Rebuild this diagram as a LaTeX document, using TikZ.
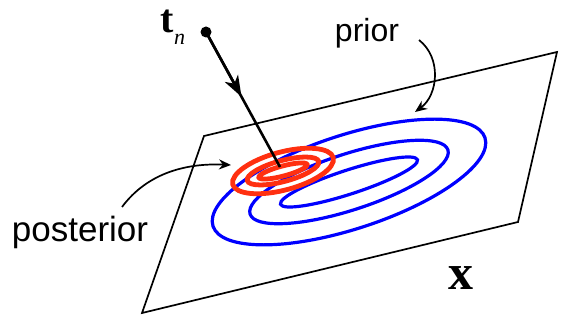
\documentclass[tikz,border=0pt]{standalone}
\usepackage{fontspec}
\setmainfont{Liberation Sans}
\newfontfamily\serifsym{Liberation Serif}
\usetikzlibrary{arrows.meta,calc}
\definecolor{postred}{RGB}{255,48,16}

\begin{document}
\begin{tikzpicture}[
    x=1pt, y=-1pt,
    plane/.style={draw, line width=1.7pt, line join=miter},
    prior/.style={draw=blue, line width=3.2pt},
    post/.style={draw=postred, line width=4.8pt},
    lbl/.style={font=\fontsize{32}{32}\selectfont, inner sep=0pt},
    arr/.style={-{Stealth[length=12pt, width=10pt]}, line width=1.7pt}
  ]
    \useasboundingbox (0,0) rectangle (565,320);
    % plane corners
    \coordinate (pA) at (204,136);
    \coordinate (pB) at (557,52);
    \coordinate (pC) at (518,222);
    \coordinate (pD) at (142,313);
    \draw[plane] (pA) -- (pB) -- (pC) -- (pD) -- cycle;
    % prior contours
    \coordinate (mp) at (349,182);
    \path[prior] (mp) circle [x radius=143pt, y radius=47pt, rotate=18];
    \path[prior] (mp) circle [x radius=104pt, y radius=28pt, rotate=18];
    \path[prior] (mp) circle [x radius=72pt, y radius=12pt, rotate=18];
    % posterior contours
    \coordinate (mq) at (283,171);
    \path[post] (mq) circle [x radius=52pt, y radius=19pt, rotate=15];
    \path[post] (mq) circle [x radius=37pt, y radius=10.5pt, rotate=15];
    \path[post] (mq) circle [x radius=25pt, y radius=5pt, rotate=15];
    % observed target
    \coordinate (tn) at (206,32);
    \coordinate (hit) at (280,167);
    \draw[line width=2.6pt] (tn) -- (hit);
    \draw[-{Stealth[length=21pt, width=15pt, inset=6pt]}, line width=2.6pt] (tn) -- ($(tn)!0.48!(hit)$);
    \fill (tn) circle (5.5pt);
    \node[inner sep=0pt] (tlbl) at (173,27)
      {\serifsym\fontsize{40}{40}\selectfont\bfseries t\raisebox{-0.3em}{\fontsize{22}{22}\selectfont\mdseries\itshape n}};
    % labels
    \node[lbl] (prlbl) at (367,33) {prior};
    \node[lbl, font=\fontsize{35}{35}\selectfont] (pslbl) at (80,232) {posterior};
    \node[inner sep=0pt] (xlbl) at (461,278) {\serifsym\fontsize{50}{50}\selectfont\bfseries x};
    \coordinate (prend) at (415,112);
    \coordinate (psend) at (231,165);
    \draw[arr] (419,40) .. controls (442,58) and (438,95) .. (prend);
    \draw[arr] (122,207) .. controls (148,172) and (188,163) .. (psend);
  \end{tikzpicture}
\end{document}
